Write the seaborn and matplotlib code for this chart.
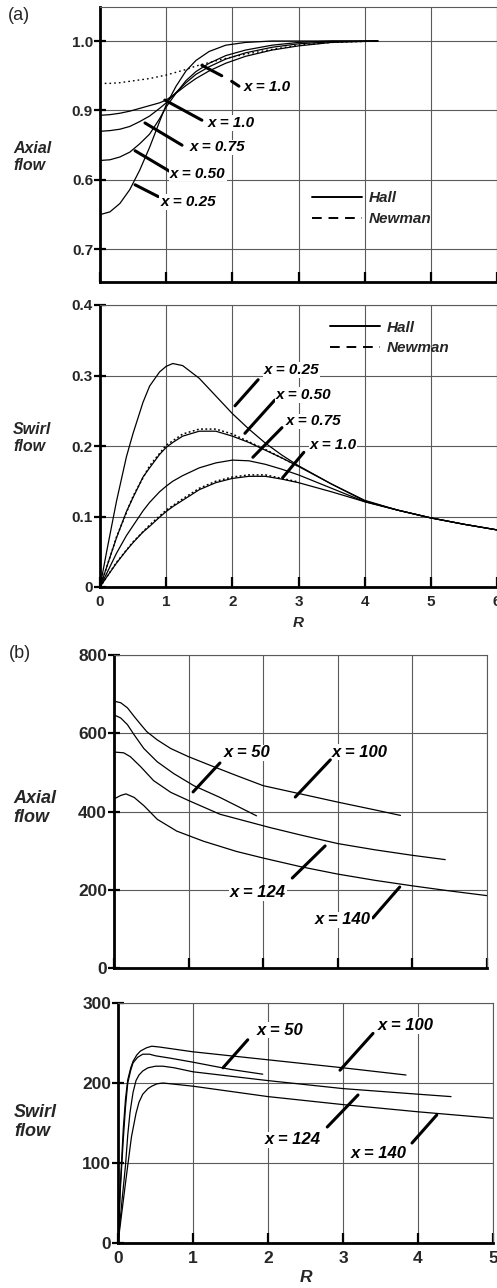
import matplotlib
matplotlib.use("Agg")
import matplotlib.pyplot as plt
from matplotlib.lines import Line2D
import seaborn as sns

sns.set_theme(style="white")
plt.rcParams['font.family'] = ['Liberation Sans', 'DejaVu Sans']

# ---------------- data: panel (a) axial flow ----------------
R_A_AXIAL = [0, 0.15, 0.3, 0.45, 0.6, 0.75, 0.9, 1.0, 1.15, 1.3, 1.45, 1.65, 1.9, 2.2, 2.6, 3.0, 3.5, 4.2]
hall_axial_025 = [0.750, 0.754, 0.766, 0.786, 0.814, 0.847, 0.884, 0.908, 0.935, 0.957, 0.972, 0.985, 0.994, 0.998, 1.000, 1.000, 1.000, 1.000]
hall_axial_050 = [0.828, 0.829, 0.833, 0.840, 0.852, 0.866, 0.888, 0.905, 0.925, 0.943, 0.956, 0.968, 0.979, 0.987, 0.994, 0.998, 1.000, 1.000]
hall_axial_075 = [0.870, 0.871, 0.873, 0.877, 0.884, 0.892, 0.903, 0.911, 0.926, 0.940, 0.952, 0.963, 0.974, 0.983, 0.991, 0.996, 0.999, 1.000]
hall_axial_100 = [0.893, 0.894, 0.896, 0.899, 0.903, 0.907, 0.911, 0.915, 0.925, 0.936, 0.946, 0.957, 0.968, 0.978, 0.987, 0.993, 0.998, 1.000]
newman_axial_100 = [0.939, 0.939, 0.940, 0.942, 0.944, 0.946, 0.949, 0.951, 0.955, 0.959, 0.964, 0.969, 0.975, 0.981, 0.988, 0.994, 0.998, 1.000]
a_axial_ticks = [0.7, 0.8, 0.9, 1.0]
a_axial_ticklabels = ["0.7", "0.6", "0.9", "1.0"]

# ---------------- data: panel (a) swirl flow ----------------
R_A_SWIRL = [0, 0.1, 0.25, 0.4, 0.5, 0.65, 0.75, 0.9, 1.0, 1.1, 1.25, 1.5, 1.75, 2.0, 2.25, 2.5, 2.75, 3.0, 3.5, 4.0, 4.5, 5.0, 5.5, 6.0]
hall_swirl_025 = [0, 0.050, 0.122, 0.185, 0.218, 0.262, 0.285, 0.305, 0.313, 0.317, 0.314, 0.296, 0.271, 0.246, 0.224, 0.204, 0.187, 0.172, 0.146, 0.123, 0.109, 0.098, 0.089, 0.081]
hall_swirl_050 = [0, 0.028, 0.070, 0.107, 0.127, 0.156, 0.169, 0.188, 0.198, 0.205, 0.214, 0.221, 0.221, 0.214, 0.205, 0.194, 0.183, 0.171, 0.146, 0.122, 0.109, 0.098, 0.089, 0.081]
hall_swirl_075 = [0, 0.019, 0.048, 0.073, 0.087, 0.108, 0.120, 0.135, 0.143, 0.150, 0.158, 0.169, 0.176, 0.180, 0.179, 0.174, 0.167, 0.159, 0.140, 0.121, 0.109, 0.098, 0.089, 0.081]
hall_swirl_100 = [0, 0.014, 0.034, 0.052, 0.063, 0.078, 0.086, 0.099, 0.107, 0.114, 0.123, 0.138, 0.148, 0.154, 0.157, 0.157, 0.153, 0.148, 0.135, 0.121, 0.109, 0.098, 0.089, 0.081]
R_A_NEWMAN = [0, 0.1, 0.25, 0.5, 0.75, 1.0, 1.25, 1.5, 1.75, 2.0, 2.25, 2.5, 3.0]
newman_swirl_050 = [0, 0.028, 0.071, 0.129, 0.172, 0.201, 0.217, 0.224, 0.224, 0.217, 0.206, 0.195, 0.171]
newman_swirl_100 = [0, 0.014, 0.035, 0.064, 0.088, 0.109, 0.125, 0.140, 0.150, 0.156, 0.159, 0.159, 0.149]

# ---------------- data: panel (b) axial flow ----------------
R_B_AX_100 = [0, 0.09, 0.18, 0.27, 0.36, 0.44, 0.58, 0.76, 1.0, 1.29, 1.64, 2.0, 2.5, 3.0, 3.5, 3.84]
b_axial_100 = [682, 678, 665, 643, 622, 604, 583, 561, 540, 518, 492, 466, 445, 424, 404, 390]
R_B_AX_50 = [0, 0.09, 0.18, 0.27, 0.4, 0.58, 0.8, 1.07, 1.42, 1.91]
b_axial_50 = [647, 639, 622, 596, 561, 527, 497, 466, 436, 389]
R_B_AX_124 = [0, 0.13, 0.22, 0.36, 0.53, 0.76, 1.0, 1.42, 2.09, 2.5, 3.0, 3.5, 4.0, 4.44]
b_axial_124 = [552, 550, 540, 514, 479, 449, 428, 393, 359, 340, 318, 302, 288, 277]
R_B_AX_140 = [0, 0.09, 0.16, 0.27, 0.4, 0.58, 0.84, 1.2, 1.64, 2.0, 2.5, 3.0, 3.5, 4.0, 4.5, 5.0]
b_axial_140 = [432, 441, 445, 436, 415, 380, 350, 324, 298, 281, 259, 240, 224, 210, 197, 185]

# ---------------- data: panel (b) swirl flow ----------------
R_B_SW_100 = [0, 0.03, 0.07, 0.1, 0.13, 0.17, 0.2, 0.25, 0.3, 0.38, 0.45, 0.55, 0.7, 1.0, 2.0, 3.0, 3.84]
b_swirl_100 = [0, 70, 142, 180, 204, 219, 227, 235, 240, 244, 246, 245, 243, 239, 229, 219, 210]
R_B_SW_50 = [0, 0.03, 0.07, 0.1, 0.13, 0.17, 0.2, 0.26, 0.33, 0.42, 0.5, 0.7, 1.0, 1.5, 1.93]
b_swirl_50 = [0, 65, 129, 170, 200, 216, 225, 232, 236, 236, 234, 231, 226, 217, 211]
R_B_SW_124 = [0, 0.05, 0.1, 0.13, 0.16, 0.2, 0.24, 0.28, 0.33, 0.4, 0.5, 0.6, 0.75, 1.0, 2.0, 3.0, 4.0, 4.44]
b_swirl_124 = [0, 50, 97, 135, 163, 188, 203, 210, 215, 219, 221, 221, 219, 214, 203, 193, 186, 183]
R_B_SW_140 = [0, 0.06, 0.1, 0.13, 0.18, 0.24, 0.28, 0.33, 0.4, 0.45, 0.52, 0.6, 0.7, 0.8, 1.0, 2.0, 3.0, 4.0, 5.0]
b_swirl_140 = [0, 45, 75, 97, 133, 162, 176, 186, 193, 196, 199, 200, 199, 198, 196, 183, 173, 164, 156]

# ---------------- annotation layout (label text, label pos, leader segments) ----------------
ann_a_axial = [
    ("x = 1.0", (2.52, 0.934), [((1.54, 0.965), (1.84, 0.950)), ((1.99, 0.942), (2.10, 0.935))]),
    ("x = 1.0", (1.98, 0.882), [((0.98, 0.915), (1.54, 0.886))]),
    ("x = 0.75", (1.77, 0.847), [((0.68, 0.882), (1.24, 0.850))]),
    ("x = 0.50", (1.48, 0.809), [((0.53, 0.842), (1.06, 0.812))]),
    ("x = 0.25", (1.33, 0.768), [((0.53, 0.793), (0.88, 0.776))]),
]
ann_a_swirl = [
    ("x = 0.25", (2.90, 0.308), [((2.04, 0.257), (2.39, 0.294))]),
    ("x = 0.50", (3.07, 0.272), [((2.19, 0.218), (2.64, 0.265))]),
    ("x = 0.75", (3.22, 0.235), [((2.31, 0.184), (2.75, 0.226))]),
    ("x = 1.0", (3.52, 0.201), [((2.76, 0.155), (3.08, 0.191))]),
]
ann_b_axial = [
    ("x = 50", (1.78, 550), [((1.06, 450), (1.42, 524))]),
    ("x = 100", (3.30, 552), [((2.43, 437), (2.90, 532))]),
    ("x = 124", (1.93, 192), [((2.39, 230), (2.83, 312))]),
    ("x = 140", (3.07, 123), [((3.47, 128), (3.83, 207))]),
]
ann_b_swirl = [
    ("x = 50", (2.16, 266), [((1.40, 219), (1.73, 254))]),
    ("x = 100", (3.83, 272), [((2.96, 216), (3.40, 262))]),
    ("x = 124", (2.33, 129), [((2.79, 145), (3.20, 185))]),
    ("x = 140", (3.47, 112), [((3.92, 125), (4.25, 160))]),
]

W, H = 497, 1288
fig = plt.figure(figsize=(W / 100, H / 100), dpi=100)
fig.patch.set_facecolor("white")


def px_axes(left, top, right, bottom):
    return fig.add_axes([left / W, 1 - bottom / H, (right - left) / W, (bottom - top) / H])


def style_axes(ax, fs):
    ax.set_facecolor("white")
    ax.grid(True, color="#5a5a5a", lw=0.8)
    ax.set_axisbelow(True)
    for s in ("left", "bottom"):
        ax.spines[s].set_color("black")
        ax.spines[s].set_linewidth(2.0)
    for s in ("top", "right"):
        ax.spines[s].set_color("#5a5a5a")
        ax.spines[s].set_linewidth(0.8)
    ax.tick_params(axis="x", direction="in", length=7, width=1.6, color="black",
                   bottom=True, labelsize=fs, pad=6)
    ax.tick_params(axis="y", direction="inout", length=8, width=1.6, color="black",
                   left=True, labelsize=fs, pad=1)
    for lab in ax.get_xticklabels() + ax.get_yticklabels():
        lab.set_fontweight("bold")


def draw_ann(ax, anns, fs):
    for text, pos, segs in anns:
        for p1, p2 in segs:
            ax.annotate("", xy=p1, xytext=p2,
                        arrowprops=dict(arrowstyle="-", lw=2.2, color="black",
                                        shrinkA=0, shrinkB=0))
        ax.text(pos[0], pos[1], text, ha="center", va="center", fontsize=fs,
                fontweight="bold", fontstyle="italic", color="black",
                bbox=dict(facecolor="white", edgecolor="none", pad=0.5))


def curve(ax, x, y, ls="-", lw=0.9):
    sns.lineplot(x=x, y=y, ax=ax, color="black", lw=lw, linestyle=ls,
                 sort=False, estimator=None, legend=False)


legend_handles = [Line2D([], [], color="black", lw=1.4, linestyle="-"),
                  Line2D([], [], color="black", lw=1.4, linestyle=(0, (5, 3.5)))]
legend_prop = dict(weight="bold", style="italic", size=11)

# ---------- panel (a) axial ----------
ax1 = px_axes(100, 7, 497, 282)
for yv in (hall_axial_025, hall_axial_050, hall_axial_075, hall_axial_100):
    curve(ax1, R_A_AXIAL, yv)
curve(ax1, R_A_AXIAL, newman_axial_100, ls=(0, (1.2, 2.2)), lw=1.0)
ax1.set_xlim(0, 6)
ax1.set_ylim(0.653, 1.049)
ax1.set_xticks(range(0, 7))
ax1.set_xticklabels([])
ax1.set_yticks(a_axial_ticks)
ax1.set_yticklabels(a_axial_ticklabels)
style_axes(ax1, 11)
ax1.set_xlabel("")
ax1.set_ylabel("")
draw_ann(ax1, ann_a_axial, 11)
ax1.legend(legend_handles, ["Hall", "Newman"], loc="upper left",
           bbox_to_anchor=(0.534, 0.33), frameon=False, prop=legend_prop,
           handlelength=3.3, handletextpad=0.4, labelspacing=0.45,
           borderpad=0, borderaxespad=0)

# ---------- panel (a) swirl ----------
ax2 = px_axes(100, 305, 497, 587)
for yv in (hall_swirl_025, hall_swirl_050, hall_swirl_075, hall_swirl_100):
    curve(ax2, R_A_SWIRL, yv)
for yv in (newman_swirl_050, newman_swirl_100):
    curve(ax2, R_A_NEWMAN, yv, ls=(0, (1.2, 1.6)), lw=1.1)
ax2.set_xlim(0, 6)
ax2.set_ylim(0, 0.4)
ax2.set_xticks(range(0, 7))
ax2.set_xticklabels([str(i) for i in range(0, 7)])
ax2.set_yticks([0, 0.1, 0.2, 0.3, 0.4])
ax2.set_yticklabels(["0", "0.1", "0.2", "0.3", "0.4"])
style_axes(ax2, 11)
ax2.set_ylabel("")
ax2.set_xlabel("R", fontsize=11, fontweight="bold", fontstyle="italic", labelpad=5)
draw_ann(ax2, ann_a_swirl, 11)
ax2.legend(legend_handles, ["Hall", "Newman"], loc="upper left",
           bbox_to_anchor=(0.579, 0.945), frameon=False, prop=legend_prop,
           handlelength=3.3, handletextpad=0.4, labelspacing=0.45,
           borderpad=0, borderaxespad=0)

# ---------- panel (b) axial ----------
ax3 = px_axes(114, 655, 487, 968)
curve(ax3, R_B_AX_100, b_axial_100)
curve(ax3, R_B_AX_50, b_axial_50)
curve(ax3, R_B_AX_124, b_axial_124)
curve(ax3, R_B_AX_140, b_axial_140)
ax3.set_xlim(0, 5)
ax3.set_ylim(0, 800)
ax3.set_xticks(range(0, 6))
ax3.set_xticklabels([])
ax3.set_yticks([0, 200, 400, 600, 800])
ax3.set_yticklabels(["0", "200", "400", "600", "800"])
style_axes(ax3, 12.5)
ax3.set_xlabel("")
ax3.set_ylabel("")
draw_ann(ax3, ann_b_axial, 12)

# ---------- panel (b) swirl ----------
ax4 = px_axes(118, 1003, 493, 1243)
curve(ax4, R_B_SW_100, b_swirl_100)
curve(ax4, R_B_SW_50, b_swirl_50)
curve(ax4, R_B_SW_124, b_swirl_124)
curve(ax4, R_B_SW_140, b_swirl_140)
ax4.set_xlim(0, 5)
ax4.set_ylim(0, 300)
ax4.set_xticks(range(0, 6))
ax4.set_xticklabels([str(i) for i in range(0, 6)])
ax4.set_yticks([0, 100, 200, 300])
ax4.set_yticklabels(["0", "100", "200", "300"])
style_axes(ax4, 12.5)
ax4.set_ylabel("")
ax4.set_xlabel("R", fontsize=12.5, fontweight="bold", fontstyle="italic", labelpad=3)
draw_ann(ax4, ann_b_swirl, 12)

# ---------- side labels ----------
def ftext(x, y, s, **kw):
    fig.text(x / W, 1 - y / H, s, **kw)

side = dict(ha="left", va="center", fontweight="bold", fontstyle="italic", linespacing=1.15)
ftext(13, 157, "Axial\nflow", fontsize=11.5, **side)
ftext(13, 438, "Swirl\nflow", fontsize=11.5, **side)
ftext(13, 808, "Axial\nflow", fontsize=13, **side)
ftext(14, 1122, "Swirl\nflow", fontsize=13, **side)
ftext(8, 15, "(a)", fontsize=13, ha="left", va="center")
ftext(9, 654, "(b)", fontsize=13, ha="left", va="center")

fig.savefig("out.png", dpi=100, facecolor="white")
